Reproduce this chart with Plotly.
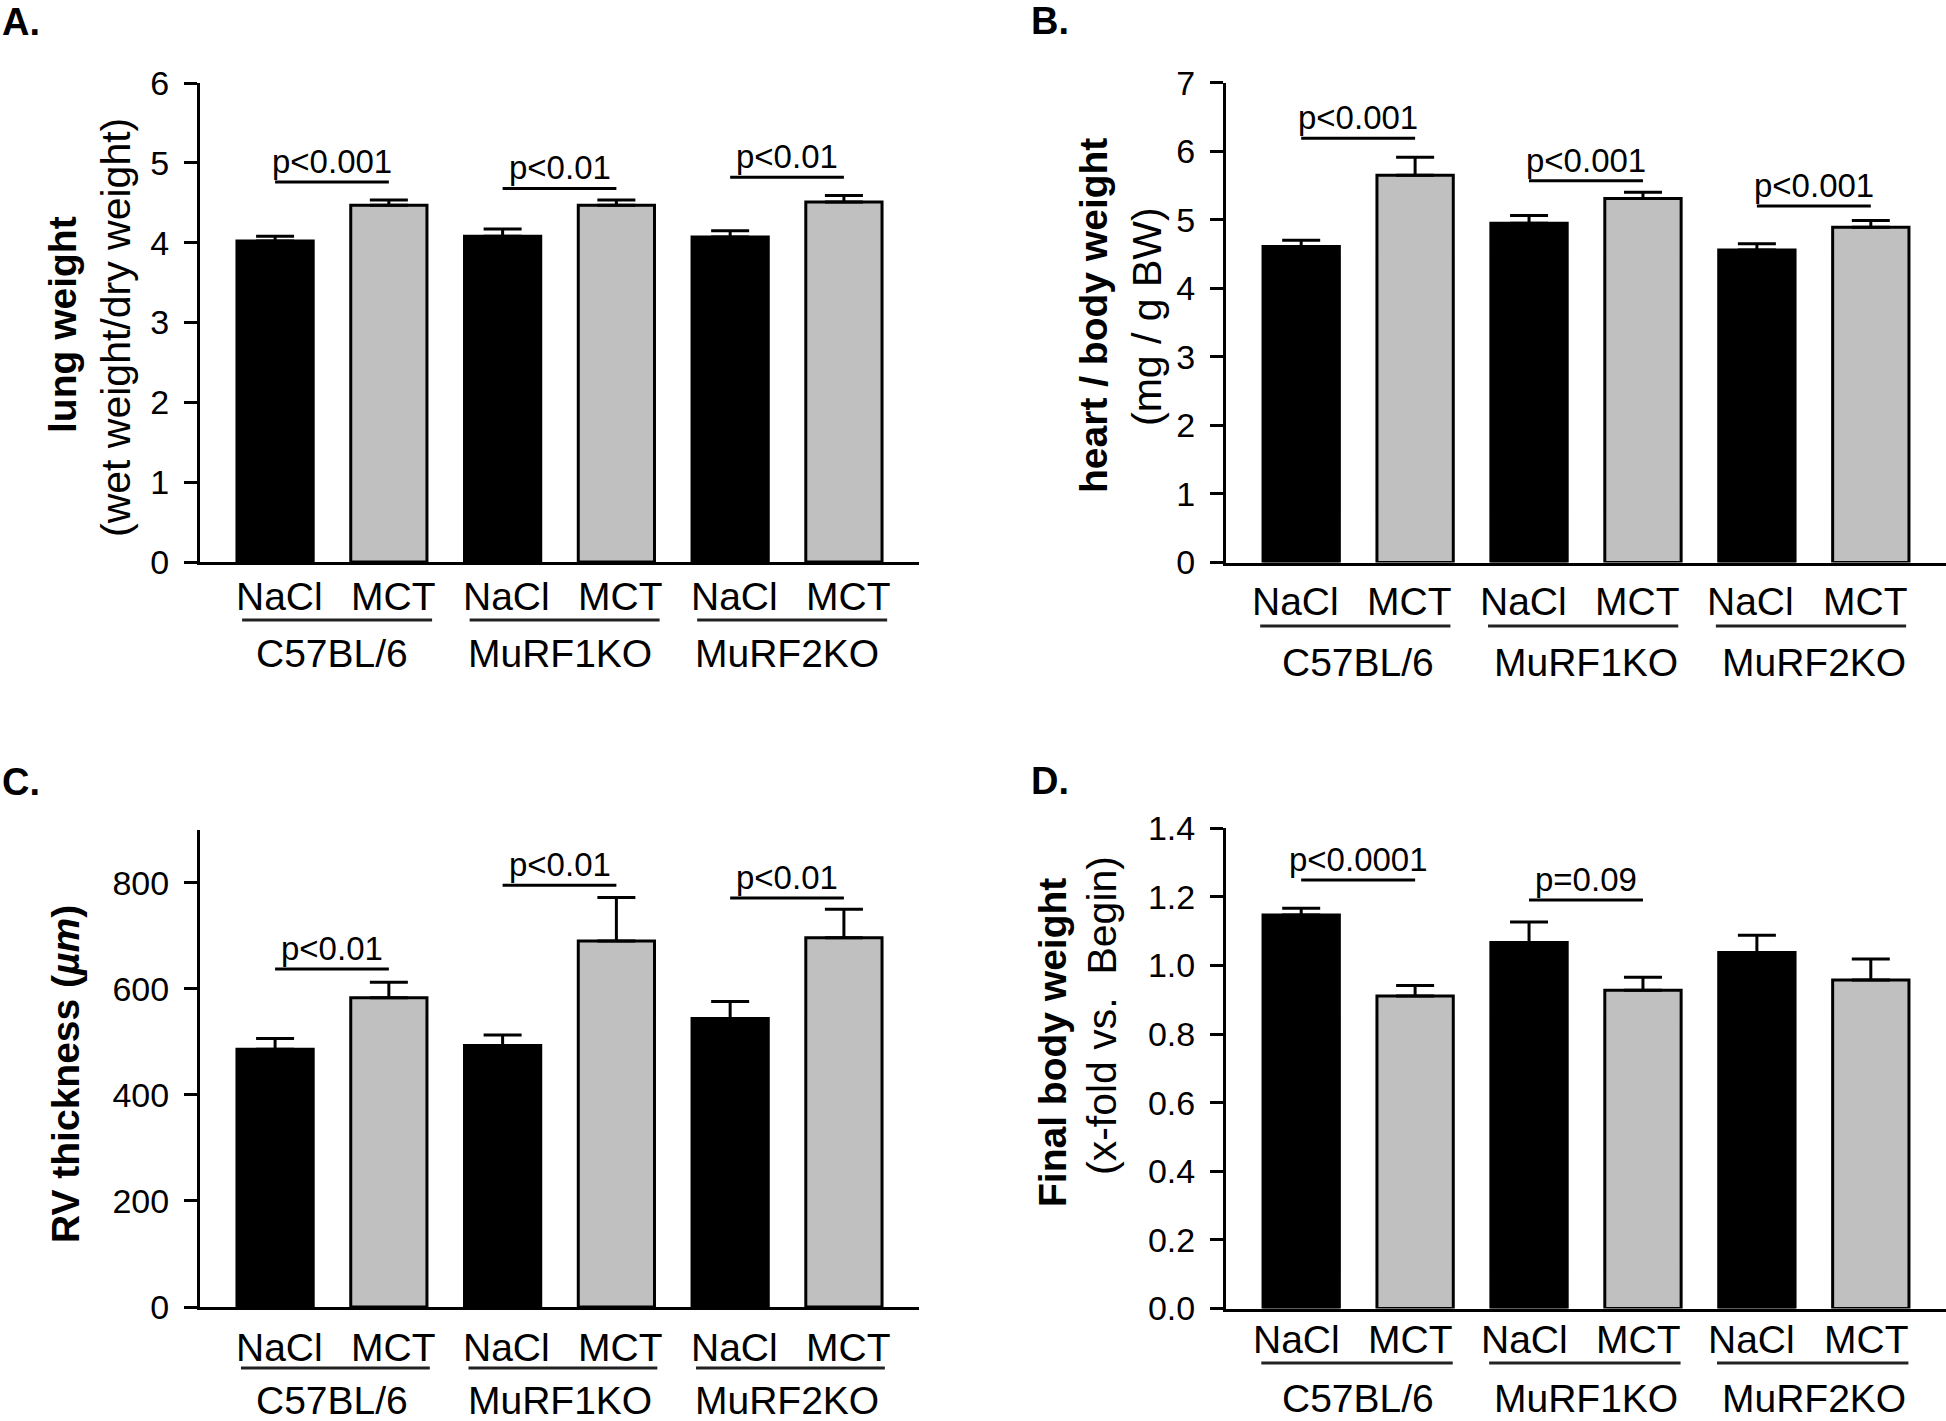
import plotly.graph_objects as go

# ---------------- data ----------------
groups = ["C57BL/6", "MuRF1KO", "MuRF2KO"]
treatments = ["NaCl", "MCT"]

# order: C57 NaCl, C57 MCT, MuRF1 NaCl, MuRF1 MCT, MuRF2 NaCl, MuRF2 MCT
lung_mean = [4.02, 4.47, 4.08, 4.47, 4.07, 4.51]
lung_sem = [0.06, 0.065, 0.09, 0.065, 0.08, 0.08]
lung_p = ["p<0.001", "p<0.01", "p<0.01"]
lung_p_y = [4.76, 4.68, 4.82]

heart_mean = [4.61, 5.65, 4.95, 5.31, 4.56, 4.89]
heart_sem = [0.09, 0.26, 0.11, 0.09, 0.09, 0.10]
heart_p = ["p<0.001", "p<0.001", "p<0.001"]
heart_p_y = [6.19, 5.57, 5.20]

rv_mean = [486, 583, 493, 690, 544, 696]
rv_sem = [20, 29, 20, 82, 32, 54]
rv_p = ["p<0.01", "p<0.01", "p<0.01"]
rv_p_y = [637, 795, 771]

bw_mean = [1.147, 0.911, 1.067, 0.928, 1.038, 0.958]
bw_sem = [0.020, 0.031, 0.060, 0.038, 0.050, 0.061]
bw_p = ["p<0.0001", "p=0.09"]
bw_p_y = [1.249, 1.191]

lung_ticks = [0, 1, 2, 3, 4, 5, 6]
heart_ticks = [0, 1, 2, 3, 4, 5, 6, 7]
rv_ticks = [0, 200, 400, 600, 800]
bw_ticks = [0.0, 0.2, 0.4, 0.6, 0.8, 1.0, 1.2, 1.4]

# ---------------- styling / layout ----------------
W, H = 1946, 1421
FONT = "Liberation Sans, Arial, Helvetica, sans-serif"
GREY = "#c0c0c0"


def fx(p):
    return p / W


def fy(p):
    return 1 - p / H


panels = [
    dict(n=1, letter="A.", letter_xy=(0, 22), xdom=(200, 919), ydom=(562, 83), yr=(0, 6),
         ticks=lung_ticks, ticktext=[str(t) for t in lung_ticks],
         mean=lung_mean, sem=lung_sem, p=lung_p, py=lung_p_y,
         titles=[("<b>lung weight</b>", 63, 325, 39), ("(wet weight/dry weight)", 116, 328, 41)],
         treat_y=596, uline_y=620, group_y=653, shift=4, uoff=(-0.79, 0.88)),
    dict(n=2, letter="B.", letter_xy=(1029, 21), xdom=(1226, 1946), ydom=(562.5, 82.6), yr=(0, 7),
         ticks=heart_ticks, ticktext=[str(t) for t in heart_ticks],
         mean=heart_mean, sem=heart_sem, p=heart_p, py=heart_p_y,
         titles=[("<b>heart / body weight</b>", 1093, 316, 39), ("(mg / g BW)", 1147, 317, 41)],
         treat_y=602, uline_y=626, group_y=662, shift=-6, uoff=(-0.86, 0.81)),
    dict(n=3, letter="C.", letter_xy=(0, 782), xdom=(200, 919), ydom=(1307, 829.6), yr=(0, 900),
         ticks=rv_ticks, ticktext=[str(t) for t in rv_ticks],
         mean=rv_mean, sem=rv_sem, p=rv_p, py=rv_p_y,
         titles=[("<b>RV thickness (<i>µm</i>)</b>", 65, 1074, 39)],
         treat_y=1347, uline_y=1368, group_y=1400, shift=4, uoff=(-0.80, 0.86)),
    dict(n=4, letter="D.", letter_xy=(1029, 781), xdom=(1226, 1946), ydom=(1308.5, 828.3), yr=(0, 1.4),
         ticks=bw_ticks, ticktext=["%.1f" % t for t in bw_ticks],
         mean=bw_mean, sem=bw_sem, p=bw_p, py=bw_p_y,
         titles=[("<b>Final body weight</b>", 1052, 1043, 39), ("(x-fold vs.  Begin)", 1102, 1016, 41)],
         treat_y=1339, uline_y=1363, group_y=1398, shift=-5, uoff=(-0.85, 0.83)),
]

fig = go.Figure()
layout = dict(
    width=W, height=H, margin=dict(l=0, r=0, t=0, b=0, pad=0, autoexpand=False),
    paper_bgcolor="white", plot_bgcolor="white", showlegend=False,
    barmode="overlay", font=dict(family=FONT, color="black"),
)
annotations = []
shapes = []

for pn in panels:
    n = pn["n"]
    xa, ya = "x%d" % n, "y%d" % n
    layout["xaxis%d" % n] = dict(
        domain=[fx(pn["xdom"][0]), fx(pn["xdom"][1])], range=[-0.66, 5.66], anchor=ya,
        showline=True, linewidth=3, linecolor="black", showticklabels=False, ticks="",
        showgrid=False, zeroline=False, automargin=False)
    layout["yaxis%d" % n] = dict(
        domain=[fy(pn["ydom"][0]), fy(pn["ydom"][1])], range=list(pn["yr"]), anchor=xa,
        showline=True, linewidth=3, linecolor="black", ticks="outside", ticklen=13,
        tickwidth=3, tickcolor="black", tickvals=pn["ticks"], ticktext=pn["ticktext"],
        tickfont=dict(size=34, family=FONT, color="black"), showgrid=False, zeroline=False,
        ticklabelstandoff=8, automargin=False)

    for t, (tname, color) in enumerate(zip(treatments, ["black", GREY])):
        xs = [2 * g + t for g in range(len(groups))]
        ys = pn["mean"][t::2]
        es = pn["sem"][t::2]
        fig.add_trace(go.Bar(
            x=xs, y=ys, name=tname, xaxis=xa, yaxis=ya, width=0.67,
            marker=dict(color=color, line=dict(color="black", width=3)),
            error_y=dict(type="data", array=es, arrayminus=[0] * len(es), symmetric=False,
                         color="black", thickness=3, width=19),
        ))
        for g, x in enumerate(xs):
            annotations.append(dict(
                text=tname, x=x, y=fy(pn["treat_y"]), xref=xa, yref="paper",
                xshift=pn["shift"], showarrow=False, xanchor="center", yanchor="middle",
                font=dict(size=39, family=FONT, color="black")))

    for g, gname in enumerate(groups):
        gc = 2 * g + 0.5
        annotations.append(dict(
            text=gname, x=gc, y=fy(pn["group_y"]), xref=xa, yref="paper",
            showarrow=False, xanchor="center", yanchor="middle",
            font=dict(size=39, family=FONT, color="black")))
        shapes.append(dict(
            type="line", xref=xa, yref="paper", x0=gc + pn["uoff"][0], x1=gc + pn["uoff"][1],
            y0=fy(pn["uline_y"]), y1=fy(pn["uline_y"]), line=dict(color="#222222", width=3)))

    for g, (ptxt, pyv) in enumerate(zip(pn["p"], pn["py"])):
        shapes.append(dict(
            type="line", xref=xa, yref=ya, x0=2 * g, x1=2 * g + 1, y0=pyv, y1=pyv,
            line=dict(color="black", width=3), layer="above"))
        annotations.append(dict(
            text=ptxt, x=2 * g + 0.5, y=pyv, xref=xa, yref=ya, showarrow=False,
            xanchor="center", yanchor="bottom", font=dict(size=33, family=FONT, color="black")))

    for txt, tx, ty, fs in pn["titles"]:
        annotations.append(dict(
            text=txt, x=fx(tx), y=fy(ty), xref="paper", yref="paper", showarrow=False,
            textangle=-90, xanchor="center", yanchor="middle",
            font=dict(size=fs, family=FONT, color="black")))

    lx, ly = pn["letter_xy"]
    annotations.append(dict(
        text="<b>%s</b>" % pn["letter"], x=fx(lx), y=fy(ly), xref="paper", yref="paper",
        showarrow=False, xanchor="left", yanchor="middle",
        font=dict(size=38, family=FONT, color="black")))

layout["annotations"] = annotations
layout["shapes"] = shapes
fig.update_layout(**layout)

fig.write_html("out.html", config={"displayModeBar": False},
               post_script="document.body.style.margin='0px';")
